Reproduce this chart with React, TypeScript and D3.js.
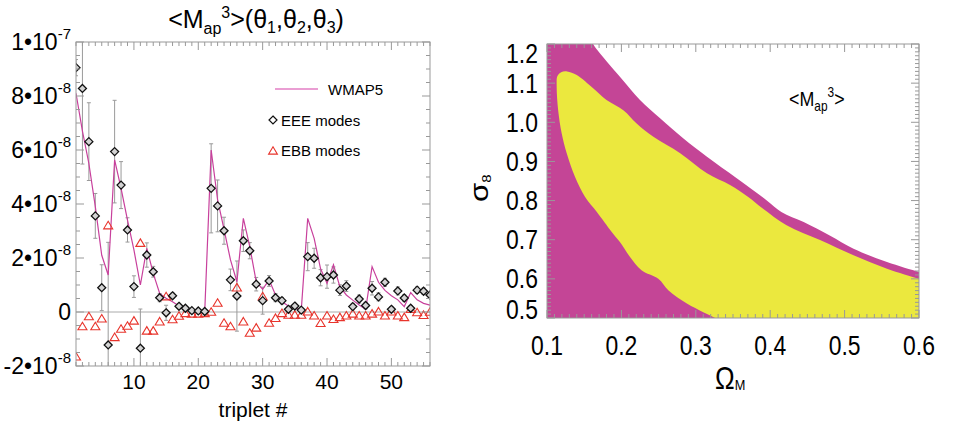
import React from 'react';
import * as d3 from 'd3';

// ---------- Left panel data (values in units of 1e-8) ----------
const TRIPLET = d3.range(1, 57);
const EEE = [9.05, 8.28, 6.31, 3.56, 0.9, -1.22, 5.94, 4.7, 3.04, 0.94, -1.34, 2.11, 1.49, 0.53, -0.03, 0.6, 0.21, 0.14, 0.05, 0.04,
  0.02, 4.58, 3.93, 3.01, 1.19, 0.59, 2.64, 2.27, 1.03, 0.42, 1.15, 0.53, 0.42, 0.1, 0.22, 0.07, 2.05, 1.99, 1.27, 1.31,
  1.37, 0.81, 0.96, 0.2, 0.48, 0.24, 0.88, 0.56, 1.1, 0.1, 0.78, 0.52, 0.14, 0.81, 0.77, 0.63];
const EEE_ERR = [0.3, 2.8, 1.44, 0.83, 0.85, 3.8, 1.9, 0.87, 0.45, 0.4, 1.45, 0.45, 0.2, 0.15, 0.28, 0.1, 0.08, 0.06, 0.05, 0.05,
  0.05, 1.65, 0.96, 0.5, 0.4, 1.3, 0.4, 0.3, 0.25, 0.5, 0.2, 0.15, 0.12, 0.1, 0.1, 0.08, 0.52, 0.37, 0.3, 0.43,
  0.3, 0.2, 0.2, 0.12, 0.15, 0.12, 0.25, 0.15, 0.15, 0.1, 0.15, 0.12, 0.1, 0.12, 0.12, 0.1];
const EBB = [-1.66, -0.54, -0.17, -0.54, -0.25, 3.2, -0.94, -0.63, -0.52, -0.33, 2.55, -0.7, -0.7, -0.36, 0.57, -0.28, -0.15, -0.05, -0.07, -0.07,
  -0.05, 0.0, 0.33, -0.41, -0.54, 0.9, -0.36, -0.78, -0.59, 0.57, -0.41, -0.23, -0.05, -0.11, -0.11, -0.11, 0.01, -0.14, -0.42, -0.14,
  -0.27, -0.2, -0.14, -0.07, -0.14, -0.14, -0.07, 0.01, -0.14, 0.01, -0.14, -0.2, 0.1, -0.02, -0.12, 0.0];
const WMAP5 = [8.1, 6.7, 5.5, 3.9, 2.1, 1.37, 5.63, 4.58, 3.4, 2.3, 1.0, 2.36, 1.43, 0.69, 0.51, 0.38, 0.22, 0.14, 0.07, 0.05,
  0.01, 6.0, 4.15, 3.06, 1.93, 1.12, 3.47, 2.42, 1.12, 0.84, 1.19, 0.63, 0.38, 0.22, 0.15, 0.07, 3.47, 2.73, 1.6, 1.06,
  1.75, 0.94, 0.63, 0.44, 0.26, 0.1, 1.68, 1.1, 0.8, 0.6, 0.45, 0.2, 0.72, 0.45, 0.32, 0.25];
const LEFT_Y_TICKS = [-2, 0, 2, 4, 6, 8, 10];
const LEFT_X_TICKS = [10, 20, 30, 40, 50];
const LEGEND = ['WMAP5', 'EEE modes', 'EBB modes'];

// ---------- Right panel data ----------
const OM_TICKS = [0.1, 0.2, 0.3, 0.4, 0.5, 0.6];
const S8_TICKS = [0.5, 0.6, 0.7, 0.8, 0.9, 1.0, 1.1, 1.2];
// upper-right edge of the outer (magenta) region
const OUTER_EDGE: [number, number][] = [
  [0.158, 1.22], [0.162, 1.2], [0.18, 1.156], [0.2, 1.112], [0.225, 1.057], [0.252, 1.01], [0.283, 0.959],
  [0.315, 0.912], [0.355, 0.857], [0.395, 0.801], [0.415, 0.771], [0.445, 0.745], [0.48, 0.711],
  [0.512, 0.677], [0.557, 0.643], [0.6, 0.6175], [0.61, 0.612]];
// boundary of the inner (yellow) region, from bottom edge round the top to the right edge
const INNER_EDGE: [number, number][] = [
  [0.332, 0.49], [0.326, 0.5], [0.31, 0.515], [0.288, 0.537], [0.263, 0.571], [0.2496, 0.6], [0.227, 0.622],
  [0.2116, 0.656], [0.198, 0.694], [0.187, 0.72], [0.167, 0.771], [0.151, 0.81], [0.1376, 0.861],
  [0.1265, 0.921], [0.1197, 0.972], [0.115, 1.031], [0.113, 1.091], [0.114, 1.118], [0.119, 1.128],
  [0.127, 1.13], [0.14, 1.121], [0.162, 1.087], [0.18, 1.057], [0.2026, 1.031], [0.2205, 0.997],
  [0.243, 0.963], [0.279, 0.921], [0.315, 0.87], [0.346, 0.84], [0.37, 0.81], [0.39, 0.78], [0.422, 0.737],
  [0.467, 0.699], [0.512, 0.66], [0.557, 0.626], [0.6, 0.6], [0.61, 0.595]];

const FONT = 'Liberation Sans, Arial, Helvetica, sans-serif';
const GRID = '#999';

export default function App() {
  // ----- left scales -----
  const lx = d3.scaleLinear().domain([1, 56]).range([76, 430]);
  const ly = d3.scaleLinear().domain([-2, 10]).range([366, 42]);
  const [lx0, lx1] = lx.range();
  const [ly0, ly1] = ly.range();
  const line = d3.line<number>().x((_, i) => lx(TRIPLET[i])).y((d) => ly(d));

  const diamond = (cx: number, cy: number, r: number) => `M${cx},${cy - r}L${cx + r},${cy}L${cx},${cy + r}L${cx - r},${cy}Z`;
  const tri = (cx: number, cy: number, r: number) => `M${cx},${cy - r}L${cx + r * 1.05},${cy + r * 0.75}L${cx - r * 1.05},${cy + r * 0.75}Z`;

  const lxMinor = d3.range(1, 57);
  const lyMinor = d3.range(-2, 10.001, 0.5);

  // ----- right scales -----
  const rx = d3.scaleLinear().domain([0.1, 0.6]).range([547, 919]);
  const ry = d3.scaleLinear().domain([0.5, 1.2]).range([318, 44]);
  const [rx0, rx1] = rx.range();
  const [ry0, ry1] = ry.range();
  const edgeLine = d3.line<[number, number]>().x((d) => rx(d[0])).y((d) => ry(d[1])).curve(d3.curveCatmullRom.alpha(0.5));
  const outerPath = edgeLine(OUTER_EDGE) + `L${rx(0.62)},${ry(0.45)}L${rx(0.08)},${ry(0.45)}L${rx(0.08)},${ry(1.25)}Z`;
  const innerPath = edgeLine(INNER_EDGE) + `L${rx(0.62)},${ry(0.45)}Z`;
  const rxMinor = d3.range(0, 51).map((k) => 0.1 + k * 0.01);
  const ryMinor = d3.range(0, 71).map((k) => 0.5 + k * 0.01);

  const leftLabel = (v: number) => {
    if (v === 0) return { m: '0', e: '' };
    const exp = Math.floor(Math.log10(Math.abs(v))) - 8;
    const mant = v / Math.pow(10, exp + 8);
    return { m: `${Math.round(mant)}•10`, e: `${exp}` };
  };

  return (
    <svg width={967} height={424} style={{ position: 'absolute', left: 0, top: 0, background: '#fff' }} fontFamily={FONT}>
      <defs>
        <clipPath id="lclip"><rect x={lx0} y={ly1} width={lx1 - lx0} height={ly0 - ly1} /></clipPath>
        <clipPath id="rclip"><rect x={rx0} y={ry1} width={rx1 - rx0} height={ry0 - ry1} /></clipPath>
      </defs>

      {/* ================= LEFT PANEL ================= */}
      <text x={256} y={28} textAnchor="middle" fontSize={25}>
        {'<M'}<tspan dy={6} fontSize={16}>ap</tspan><tspan dy={-16} fontSize={16}>3</tspan>
        <tspan dy={10}>{'>(θ'}</tspan><tspan dy={5} fontSize={16}>1</tspan>
        <tspan dy={-5}>{',θ'}</tspan><tspan dy={5} fontSize={16}>2</tspan>
        <tspan dy={-5}>{',θ'}</tspan><tspan dy={5} fontSize={16}>3</tspan>
        <tspan dy={-5}>{')'}</tspan>
      </text>

      {/* zero line */}
      <line x1={lx0} x2={lx1} y1={ly(0)} y2={ly(0)} stroke="#aaa" strokeWidth={1} />

      <g clipPath="url(#lclip)">
        {/* error bars */}
        {EEE.map((v, i) => {
          const x = lx(TRIPLET[i]);
          const e = EEE_ERR[i];
          return (
            <g key={'e' + i} stroke="#9a9a9a" strokeWidth={1}>
              <line x1={x} x2={x} y1={ly(v + e)} y2={ly(v - e)} />
              <line x1={x - 2} x2={x + 2} y1={ly(v + e)} y2={ly(v + e)} />
              <line x1={x - 2} x2={x + 2} y1={ly(v - e)} y2={ly(v - e)} />
            </g>
          );
        })}
        <path d={line(WMAP5) || ''} fill="none" stroke="#c8409c" strokeWidth={1.2} />
        {EBB.map((v, i) => (
          <path key={'t' + i} d={tri(lx(TRIPLET[i]), ly(v), 4.3)} fill="none" stroke="#e8342c" strokeWidth={1.1} />
        ))}
        {EEE.map((v, i) => (
          <path key={'d' + i} d={diamond(lx(TRIPLET[i]), ly(v), 4)} fill="#d4d4d4" stroke="#111" strokeWidth={1.3} />
        ))}
      </g>

      {/* frame + ticks */}
      <rect x={lx0} y={ly1} width={lx1 - lx0} height={ly0 - ly1} fill="none" stroke={GRID} strokeWidth={1} />
      <g stroke={GRID} strokeWidth={1}>
        {lxMinor.map((t) => {
          const len = t % 10 === 0 ? 8 : 4;
          return (
            <g key={'lx' + t}>
              <line x1={lx(t)} x2={lx(t)} y1={ly0} y2={ly0 - len} />
              <line x1={lx(t)} x2={lx(t)} y1={ly1} y2={ly1 + len} />
            </g>
          );
        })}
        {lyMinor.map((t) => {
          const len = Math.abs(t % 2) < 1e-6 ? 8 : 4;
          return (
            <g key={'ly' + t}>
              <line x1={lx0} x2={lx0 + len} y1={ly(t)} y2={ly(t)} />
              <line x1={lx1} x2={lx1 - len} y1={ly(t)} y2={ly(t)} />
            </g>
          );
        })}
      </g>
      {LEFT_Y_TICKS.map((t) => {
        const { m, e } = leftLabel(t);
        return (
          <text key={'yl' + t} x={71} y={ly(t) + 8} textAnchor="end" fontSize={23}>
            {m}
            {e && <tspan dy={-11} fontSize={15}>{e}</tspan>}
          </text>
        );
      })}
      {LEFT_X_TICKS.map((t) => (
        <text key={'xl' + t} x={lx(t)} y={389} textAnchor="middle" fontSize={21}>{t}</text>
      ))}
      <text x={253} y={417} textAnchor="middle" fontSize={21}>triplet #</text>

      {/* legend */}
      <line x1={275} x2={318} y1={89} y2={89} stroke="#d63fa8" strokeWidth={1.2} />
      <text x={328} y={95} fontSize={15}>{LEGEND[0]}</text>
      <path d={diamond(273, 120, 4)} fill="#fff" stroke="#111" strokeWidth={1.2} />
      <text x={281} y={126} fontSize={15}>{LEGEND[1]}</text>
      <path d={tri(273, 151, 4.2)} fill="none" stroke="#e8342c" strokeWidth={1.1} />
      <text x={281} y={156} fontSize={15}>{LEGEND[2]}</text>

      {/* ================= RIGHT PANEL ================= */}
      <g clipPath="url(#rclip)">
        <rect x={rx0} y={ry1} width={rx1 - rx0} height={ry0 - ry1} fill="#fff" />
        <path d={outerPath} fill="#c44596" />
        <path d={innerPath} fill="#ebe83e" />
      </g>
      <rect x={rx0} y={ry1} width={rx1 - rx0} height={ry0 - ry1} fill="none" stroke={GRID} strokeWidth={1} />
      <g stroke={GRID} strokeWidth={1}>
        {rxMinor.map((t, k) => {
          const len = k % 10 === 0 ? 8 : 4;
          return (
            <g key={'rx' + k}>
              <line x1={rx(t)} x2={rx(t)} y1={ry0} y2={ry0 - len} />
              <line x1={rx(t)} x2={rx(t)} y1={ry1} y2={ry1 + len} />
            </g>
          );
        })}
        {ryMinor.map((t, k) => {
          const len = k % 10 === 0 ? 8 : 4;
          return (
            <g key={'ry' + k}>
              <line x1={rx0} x2={rx0 + len} y1={ry(t)} y2={ry(t)} />
              <line x1={rx1} x2={rx1 - len} y1={ry(t)} y2={ry(t)} />
            </g>
          );
        })}
      </g>
      {OM_TICKS.map((t) => (
        <text key={'om' + t} transform={`translate(${rx(t)},355) scale(0.85,1)`} textAnchor="middle" fontSize={27}>
          {t.toFixed(1)}
        </text>
      ))}
      {S8_TICKS.map((t) => {
        const cy = Math.min(Math.max(ry(t), ry1 + 9), ry0 - 9);
        return (
          <text key={'s8' + t} transform={`translate(538,${cy + 9.5}) scale(0.85,1)`} textAnchor="end" fontSize={27}>
            {t.toFixed(1)}
          </text>
        );
      })}
      <text transform="translate(488,202) rotate(-90) scale(1,0.85)" fontSize={31}>
        σ<tspan dy={4} fontSize={15}>8</tspan>
      </text>
      <text transform="translate(715,389) scale(0.85,1)" fontSize={31}>
        Ω<tspan dy={1} fontSize={15}>M</tspan>
      </text>
      <text transform="translate(789,106) scale(0.85,1)" fontSize={21}>
        {'<M'}<tspan dy={5} fontSize={14}>ap</tspan><tspan dy={-14} fontSize={14}>3</tspan><tspan dy={9}>{'>'}</tspan>
      </text>
    </svg>
  );
}
